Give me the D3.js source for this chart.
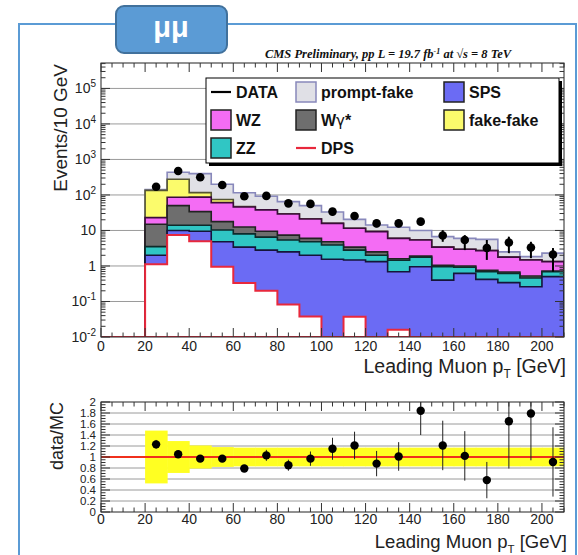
<!DOCTYPE html>
<html>
<head>
<meta charset="utf-8">
<script src="https://cdnjs.cloudflare.com/ajax/libs/d3/7.8.5/d3.min.js"></script>
<style>
  body { margin: 0; background: #fff; }
  text { font-family: "Liberation Sans", Arial, Helvetica, sans-serif; }
</style>
</head>
<body>
<div id="chart"></div>
<script>
// bin edges in GeV (10 GeV bins)
var binEdges = [0, 10, 20, 30, 40, 50, 60, 70, 80, 90, 100, 110, 120, 130, 140, 150, 160, 170, 180, 190, 200, 210];

// MC contributions per bin (events / 10 GeV)
var dps        = [0, 0, 1.12, 7.5, 5.0, 0.95, 0.33, 0.2, 0.082, 0.038, 0, 0.037, 0, 0.016, 0, 0, 0, 0, 0, 0, 0];
var sps        = [0, 0, 0.88, 2.5, 4.5, 3.85, 3.07, 2.6, 2.42, 1.96, 1.55, 1.44, 1.33, 0.67, 0.95, 0.40, 0.62, 0.42, 0.34, 0.26, 0.50];
var zz         = [0, 0, 1.5, 4.0, 4.5, 5.5, 4.6, 3.7, 2.9, 2.8, 2.35, 1.32, 0.67, 0.76, 0.81, 0.55, 0.30, 0.27, 0.28, 0.20, 0.19];
var wgamma     = [0, 0, 11.5, 36, 20, 7.5, 4.5, 3.0, 2.0, 1.2, 0.9, 0.6, 0.5, 0.15, 0.14, 0.10, 0.08, 0.06, 0.06, 0.06, 0.03];
var wz         = [0, 0, 8, 36, 53, 43, 33.5, 28.5, 21.6, 15, 11, 8.1, 6.8, 4.4, 3.5, 2.35, 1.95, 1.95, 1.09, 0.96, 0.61];
var fakeFake   = [0, 0, 112, 192, 29, 14, 1, 0.5, 0.3, 0.2, 0.2, 0.1, 0.1, 0.05, 0.05, 0.02, 0.02, 0.02, 0.01, 0.01, 0.01];
var promptFake = [0, 0, 7, 158, 284, 125, 68, 53.5, 35.7, 28.8, 17, 8.9, 4.9, 6.25, 4.55, 3.28, 3.03, 2.88, 0.72, 0.35, 0.96];

// data points with error bar ends
var dataVal = [null, null, 171, 474, 316, 191, 92, 94, 58, 56, 34, 25.6, 15.8, 15.8, 17.7, 7.2, 5.4, 3.2, 4.6, 3.3, 2.1];
var dataLo  = [null, null, 158, 452, 299, 178, 83, 85, 51, 49, 29, 21, 12.3, 12.3, 13.8, 4.8, 2.8, 1.48, 2.3, 1.66, 0.69];
var dataHi  = [null, null, 185, 496, 334, 205, 102, 104, 66, 64, 40, 31, 20, 20, 22.5, 10.2, 7.4, 5.4, 6.7, 4.8, 3.2];

// ratio panel
var ratioVal = [null, null, 1.23, 1.05, 0.97, 0.97, 0.79, 1.03, 0.85, 0.97, 1.15, 1.21, 0.88, 1.01, 1.84, 1.21, 1.02, 0.58, 1.65, 1.79, 0.91];
var ratioErr = [null, null, 0.08, 0.05, 0.05, 0.05, 0.06, 0.1, 0.1, 0.13, 0.2, 0.25, 0.23, 0.26, 0.44, 0.45, 0.45, 0.33, 0.86, 0.85, 0.63];
var mcErr    = [0, 0, 0.48, 0.29, 0.21, 0.18, 0.17, 0.17, 0.17, 0.17, 0.17, 0.17, 0.17, 0.17, 0.17, 0.17, 0.17, 0.17, 0.17, 0.17, 0.17];

var xTicks = [0, 20, 40, 60, 80, 100, 120, 140, 160, 180, 200];
var yTickVals = [1e-2, 1e-1, 1, 10, 1e2, 1e3, 1e4, 1e5];
var yTickBase = ["10", "10", "1", "10", "10", "10", "10", "10"];
var yTickExp  = ["-2", "-1", "", "", "2", "3", "4", "5"];
var ratioTicks = [0, 0.2, 0.4, 0.6, 0.8, 1, 1.2, 1.4, 1.6, 1.8, 2];

var keys = ["DPS", "SPS", "ZZ", "Wg", "WZ", "fakeFake", "promptFake"];
var fills  = {DPS: "#ffffff", SPS: "#6b6bf4", ZZ: "#30c6c4", Wg: "#6e6e6e", WZ: "#f46cf4", fakeFake: "#fbfb6c", promptFake: "#e0e0e6"};
var lines  = {DPS: "#e8283c", SPS: "#15153a", ZZ: "#0d2a2a", Wg: "#222222", WZ: "#3a0c3a", fakeFake: "#555533", promptFake: "#8888bb"};

var W = 578, H = 555;
var svg = d3.select("#chart").append("svg")
    .attr("width", W)
    .attr("height", H);

// slide frame + tab
svg.append("rect")
    .attr("x", 19).attr("y", 24).attr("width", 557).attr("height", 560)
    .attr("fill", "none").attr("stroke", "#5b9bd5").attr("stroke-width", 2);
svg.append("rect")
    .attr("x", 116).attr("y", 6).attr("width", 111).attr("height", 47).attr("rx", 8)
    .attr("fill", "#5b9bd5").attr("stroke", "#41719c").attr("stroke-width", 2);
svg.append("text")
    .attr("x", 171).attr("y", 37).attr("text-anchor", "middle")
    .attr("fill", "#fff").attr("font-size", 29).attr("font-weight", "bold")
    .text("μμ");

var fr = {left: 101, right: 564, top: 63, bottom: 337};
var rf = {top: 402, bottom: 512};

var x = d3.scaleLinear().domain([0, 210]).range([fr.left, fr.right]);
var y = d3.scaleLog().domain([1e-2, 5.2e5]).range([fr.bottom, fr.top]).clamp(true);
var yr = d3.scaleLinear().domain([0, 2]).range([rf.bottom, rf.top]);

var defs = svg.append("defs");
defs.append("clipPath").attr("id", "clipMain").append("rect")
    .attr("x", fr.left).attr("y", fr.top).attr("width", fr.right - fr.left).attr("height", fr.bottom - fr.top);
defs.append("clipPath").attr("id", "clipRatio").append("rect")
    .attr("x", fr.left).attr("y", rf.top).attr("width", fr.right - fr.left).attr("height", rf.bottom - rf.top);

// title
svg.append("text")
    .attr("x", 388).attr("y", 58).attr("text-anchor", "middle")
    .style("font-family", "'Liberation Serif', 'Times New Roman', serif")
    .attr("font-style", "italic").attr("font-weight", "bold").attr("font-size", 12.5)
    .attr("fill", "#111")
    .html("CMS Preliminary, pp L = 19.7 fb<tspan dy='-4' font-size='8'>-1</tspan><tspan dy='4'> at √s = 8 TeV</tspan>");

// ---------- main panel ----------
var rows = binEdges.slice(0, -1).map(function(e, i) {
  return {lo: e, hi: binEdges[i + 1], DPS: dps[i], SPS: sps[i], ZZ: zz[i], Wg: wgamma[i],
          WZ: wz[i], fakeFake: fakeFake[i], promptFake: promptFake[i]};
});
var stacked = d3.stack().keys(keys)(rows);

var main = svg.append("g");

// grid lines (under the histograms)
main.selectAll(".grid")
    .data(yTickVals.slice(1))
  .enter().append("line")
    .attr("x1", fr.left).attr("x2", fr.right)
    .attr("y1", function(d) { return y(d); }).attr("y2", function(d) { return y(d); })
    .attr("stroke", "#9a9a9a").attr("stroke-width", 1);

var floorV = 1e-2;
function stepPath(series) {
  var pts = [[x(binEdges[0]), y(floorV)]];
  series.forEach(function(d, i) {
    var v = Math.max(d[1], 1e-4);
    pts.push([x(rows[i].lo), y(v)]);
    pts.push([x(rows[i].hi), y(v)]);
  });
  pts.push([x(binEdges[binEdges.length - 1]), y(floorV)]);
  return d3.line()(pts) + "Z";
}

var hists = main.append("g").attr("clip-path", "url(#clipMain)");
stacked.slice().reverse().forEach(function(s) {
  hists.append("path")
      .attr("d", stepPath(s))
      .attr("fill", fills[s.key])
      .attr("stroke", lines[s.key])
      .attr("stroke-width", s.key === "DPS" ? 2 : 1.6)
      .attr("stroke-linejoin", "miter");
});

// data points
var dataRows = rows.map(function(r, i) {
  return {c: (r.lo + r.hi) / 2, v: dataVal[i], lo: dataLo[i], hi: dataHi[i]};
}).filter(function(d) { return d.v != null; });

var pts = main.append("g").attr("clip-path", "url(#clipMain)");
pts.selectAll(".err")
    .data(dataRows)
  .enter().append("line")
    .attr("x1", function(d) { return x(d.c); }).attr("x2", function(d) { return x(d.c); })
    .attr("y1", function(d) { return y(d.lo); }).attr("y2", function(d) { return y(d.hi); })
    .attr("stroke", "#000").attr("stroke-width", 2);
pts.selectAll(".dot")
    .data(dataRows)
  .enter().append("circle")
    .attr("cx", function(d) { return x(d.c); })
    .attr("cy", function(d) { return y(d.v); })
    .attr("r", 4.3)
    .attr("fill", "#000");

// frame and ticks
function drawFrame(g, top, bottom) {
  g.append("rect")
      .attr("x", fr.left).attr("y", top).attr("width", fr.right - fr.left).attr("height", bottom - top)
      .attr("fill", "none").attr("stroke", "#222").attr("stroke-width", 1);
  for (var v = 0; v <= 210; v += 5) {
    var len = (v % 20 === 0) ? 9 : 4.5;
    g.append("line").attr("x1", x(v)).attr("x2", x(v)).attr("y1", bottom).attr("y2", bottom - len)
        .attr("stroke", "#333");
    g.append("line").attr("x1", x(v)).attr("x2", x(v)).attr("y1", top).attr("y2", top + len)
        .attr("stroke", "#333");
  }
}
drawFrame(main, fr.top, fr.bottom);

// log y ticks
for (var p = -2; p <= 5; p++) {
  for (var k = 1; k <= 9; k++) {
    var val = k * Math.pow(10, p);
    if (val > 5.2e5) continue;
    var len = (k === 1) ? 9 : 4.5;
    main.append("line").attr("x1", fr.left).attr("x2", fr.left + len)
        .attr("y1", y(val)).attr("y2", y(val)).attr("stroke", "#333");
    main.append("line").attr("x1", fr.right).attr("x2", fr.right - len)
        .attr("y1", y(val)).attr("y2", y(val)).attr("stroke", "#333");
  }
}

// y tick labels
yTickVals.forEach(function(v, i) {
  var t = main.append("text")
      .attr("x", 96).attr("y", y(v) + 5)
      .attr("text-anchor", "end").attr("font-size", 14).attr("fill", "#222");
  t.append("tspan").text(yTickBase[i]);
  if (yTickExp[i] !== "") {
    t.append("tspan").attr("dy", -6).attr("font-size", 10).text(yTickExp[i]);
  }
});

// x tick labels (main)
main.selectAll(".xl")
    .data(xTicks)
  .enter().append("text")
    .attr("x", function(d) { return x(d); })
    .attr("y", 351)
    .attr("text-anchor", "middle").attr("font-size", 14).attr("fill", "#222")
    .text(function(d) { return d; });

// axis titles
main.append("text")
    .attr("transform", "translate(67,64) rotate(-90)")
    .attr("text-anchor", "end").attr("font-size", 19).attr("fill", "#222")
    .text("Events/10 GeV");

var xt = main.append("text")
    .attr("x", 566).attr("y", 373)
    .attr("text-anchor", "end").attr("font-size", 19.5).attr("fill", "#222");
xt.append("tspan").text("Leading Muon p");
xt.append("tspan").attr("dy", 5).attr("font-size", 12).text("T");
xt.append("tspan").attr("dy", -5).text(" [GeV]");

// ---------- legend ----------
var leg = svg.append("g");
leg.append("rect").attr("x", 209).attr("y", 81).attr("width", 353).attr("height", 85).attr("fill", "#000");
leg.append("rect").attr("x", 206).attr("y", 78).attr("width", 353).attr("height", 85)
    .attr("fill", "#fff").attr("stroke", "#000").attr("stroke-width", 1);

var legendItems = [
  {label: "DATA", type: "line", color: "#000", col: 0, row: 0},
  {label: "prompt-fake", type: "box", key: "promptFake", col: 1, row: 0},
  {label: "SPS", type: "box", key: "SPS", col: 2, row: 0},
  {label: "WZ", type: "box", key: "WZ", col: 0, row: 1},
  {label: "Wγ*", type: "box", key: "Wg", col: 1, row: 1},
  {label: "fake-fake", type: "box", key: "fakeFake", col: 2, row: 1},
  {label: "ZZ", type: "box", key: "ZZ", col: 0, row: 2},
  {label: "DPS", type: "line", color: "#e8283c", col: 1, row: 2}
];
var colX = [211, 296, 444];
var rowY = [92, 120, 148];
legendItems.forEach(function(d) {
  var x0 = colX[d.col], yc = rowY[d.row];
  if (d.type === "box") {
    leg.append("rect").attr("x", x0).attr("y", yc - 10).attr("width", 20).attr("height", 20)
        .attr("fill", fills[d.key])
        .attr("stroke", d.key === "promptFake" ? "#8888bb" : "#222").attr("stroke-width", 1.5);
  } else {
    leg.append("line").attr("x1", x0).attr("x2", x0 + 20).attr("y1", yc).attr("y2", yc)
        .attr("stroke", d.color).attr("stroke-width", 2.2);
  }
  var t = leg.append("text").attr("x", x0 + 25).attr("y", yc + 6)
      .attr("font-size", 16).attr("font-weight", "bold").attr("fill", "#111");
  if (d.key === "Wg") {
    t.append("tspan").text("W");
    t.append("tspan").style("font-family", "'DejaVu Sans', sans-serif")
        .attr("font-weight", "normal").attr("font-size", 15).text("γ");
    t.append("tspan").text("*");
  } else {
    t.text(d.label);
  }
});

// ---------- ratio panel ----------
var rat = svg.append("g");
rat.selectAll(".rgrid")
    .data(ratioTicks.slice(1, -1))
  .enter().append("line")
    .attr("x1", fr.left).attr("x2", fr.right)
    .attr("y1", function(d) { return yr(d); }).attr("y2", function(d) { return yr(d); })
    .attr("stroke", "#9a9a9a").attr("stroke-width", 1);

var rclip = rat.append("g").attr("clip-path", "url(#clipRatio)");
rclip.selectAll(".band")
    .data(rows.map(function(r, i) { return {lo: r.lo, hi: r.hi, e: mcErr[i]}; }).filter(function(d) { return d.e > 0; }))
  .enter().append("rect")
    .attr("x", function(d) { return x(d.lo); })
    .attr("width", function(d) { return x(d.hi) - x(d.lo) + 0.5; })
    .attr("y", function(d) { return yr(1 + d.e); })
    .attr("height", function(d) { return yr(1 - d.e) - yr(1 + d.e); })
    .attr("fill", "#ffff22");

rclip.append("line")
    .attr("x1", x(0)).attr("x2", x(210)).attr("y1", yr(1)).attr("y2", yr(1))
    .attr("stroke", "#f0301c").attr("stroke-width", 2);

var ratioRows = rows.map(function(r, i) {
  return {c: (r.lo + r.hi) / 2, v: ratioVal[i], e: ratioErr[i]};
}).filter(function(d) { return d.v != null; });

rclip.selectAll(".rerr")
    .data(ratioRows)
  .enter().append("line")
    .attr("x1", function(d) { return x(d.c); }).attr("x2", function(d) { return x(d.c); })
    .attr("y1", function(d) { return yr(d.v - d.e); }).attr("y2", function(d) { return yr(d.v + d.e); })
    .attr("stroke", "#222").attr("stroke-width", 1);
rclip.selectAll(".rdot")
    .data(ratioRows)
  .enter().append("circle")
    .attr("cx", function(d) { return x(d.c); })
    .attr("cy", function(d) { return yr(d.v); })
    .attr("r", 4.2)
    .attr("fill", "#000");

drawFrame(rat, rf.top, rf.bottom);
for (var q = 0; q <= 40; q++) {
  var rv = q * 0.05;
  var rl = (q % 4 === 0) ? 9 : 4.5;
  rat.append("line").attr("x1", fr.left).attr("x2", fr.left + rl)
      .attr("y1", yr(rv)).attr("y2", yr(rv)).attr("stroke", "#333");
  rat.append("line").attr("x1", fr.right).attr("x2", fr.right - rl)
      .attr("y1", yr(rv)).attr("y2", yr(rv)).attr("stroke", "#333");
}

rat.selectAll(".ryl")
    .data(ratioTicks)
  .enter().append("text")
    .attr("x", 96)
    .attr("y", function(d) { return yr(d) + 4; })
    .attr("text-anchor", "end").attr("font-size", 11.5).attr("fill", "#222")
    .text(function(d) { return d; });

rat.selectAll(".rxl")
    .data(xTicks)
  .enter().append("text")
    .attr("x", function(d) { return x(d); })
    .attr("y", 524)
    .attr("text-anchor", "middle").attr("font-size", 14).attr("fill", "#222")
    .text(function(d) { return d; });

rat.append("text")
    .attr("transform", "translate(63,402) rotate(-90)")
    .attr("text-anchor", "end").attr("font-size", 18).attr("fill", "#222")
    .text("data/MC");

var rxt = rat.append("text")
    .attr("x", 567).attr("y", 548)
    .attr("text-anchor", "end").attr("font-size", 18.5).attr("fill", "#222");
rxt.append("tspan").text("Leading Muon p");
rxt.append("tspan").attr("dy", 5).attr("font-size", 11.5).text("T");
rxt.append("tspan").attr("dy", -5).text(" [GeV]");
</script>
</body>
</html>
